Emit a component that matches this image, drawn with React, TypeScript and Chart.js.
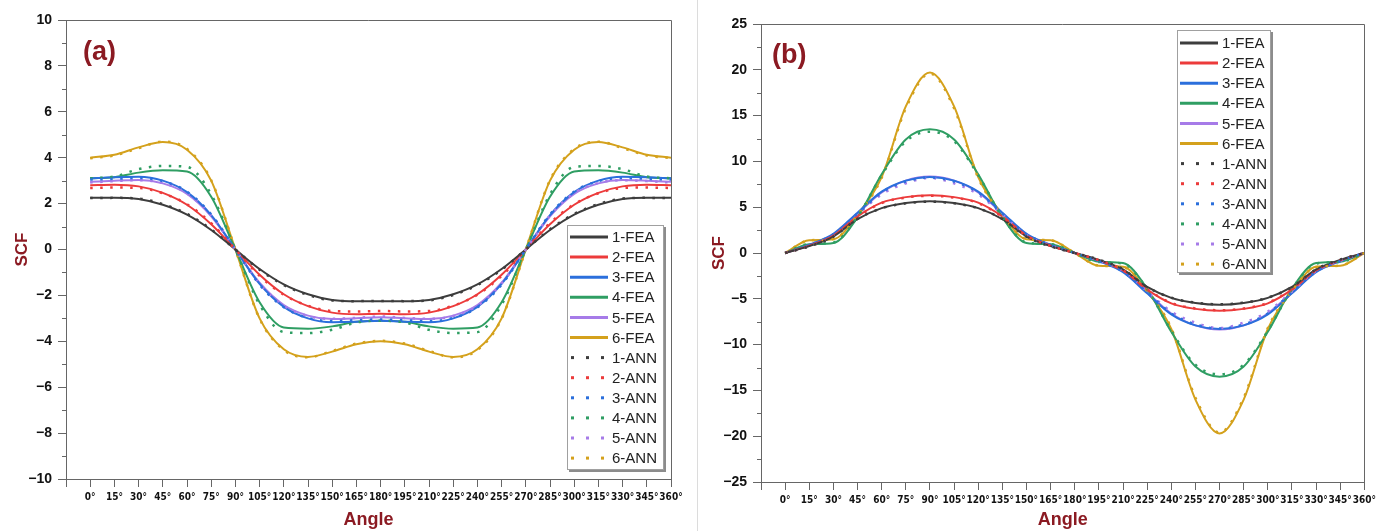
import React, { useEffect, useRef } from 'react';
import { Chart, registerables } from 'chart.js';

Chart.register(...registerables);

// ---------- data ----------
const angles = [0, 15, 30, 45, 60, 75, 90, 105, 120, 135, 150, 165, 180, 195, 210, 225, 240, 255, 270, 285, 300, 315, 330, 345, 360];
const xTickLabels = angles.map((a) => `${a}°`);
const feaLabels = ['1-FEA', '2-FEA', '3-FEA', '4-FEA', '5-FEA', '6-FEA'];
const annLabels = ['1-ANN', '2-ANN', '3-ANN', '4-ANN', '5-ANN', '6-ANN'];

// panel (a)
const fea1A = [2.25, 2.26, 2.2, 1.95, 1.52, 0.85, 0, -0.85, -1.52, -1.95, -2.2, -2.26, -2.25, -2.26, -2.2, -1.95, -1.52, -0.85, 0, 0.85, 1.52, 1.95, 2.2, 2.26, 2.25];
const fea2A = [2.8, 2.82, 2.75, 2.47, 1.95, 1.1, 0, -1.1, -1.95, -2.47, -2.75, -2.82, -2.8, -2.82, -2.75, -2.47, -1.95, -1.1, 0, 1.1, 1.95, 2.47, 2.75, 2.82, 2.8];
const fea3A = [3.1, 3.15, 3.17, 3.0, 2.5, 1.5, 0, -1.5, -2.5, -3.0, -3.17, -3.15, -3.1, -3.15, -3.17, -3.0, -2.5, -1.5, 0, 1.5, 2.5, 3.0, 3.17, 3.15, 3.1];
const fea4A = [3.1, 3.15, 3.35, 3.45, 3.4, 2.3, 0, -2.3, -3.4, -3.45, -3.35, -3.15, -3.1, -3.15, -3.35, -3.45, -3.4, -2.3, 0, 2.3, 3.4, 3.45, 3.35, 3.15, 3.1];
const fea5A = [2.95, 3.0, 3.03, 2.88, 2.42, 1.45, 0, -1.45, -2.42, -2.88, -3.03, -3.0, -2.95, -3.0, -3.03, -2.88, -2.42, -1.45, 0, 1.45, 2.42, 2.88, 3.03, 3.0, 2.95];
const fea6A = [4.0, 4.13, 4.45, 4.68, 4.35, 3.0, 0, -3.0, -4.35, -4.68, -4.45, -4.13, -4.0, -4.13, -4.45, -4.68, -4.35, -3.0, 0, 3.0, 4.35, 4.68, 4.45, 4.13, 4.0];
const ann1A = [2.24, 2.25, 2.22, 1.98, 1.55, 0.88, 0, -0.88, -1.55, -1.98, -2.22, -2.25, -2.24, -2.25, -2.22, -1.98, -1.55, -0.88, 0, 0.88, 1.55, 1.98, 2.22, 2.25, 2.24];
const ann2A = [2.68, 2.7, 2.68, 2.45, 1.97, 1.15, 0, -1.15, -1.97, -2.45, -2.68, -2.7, -2.68, -2.7, -2.68, -2.45, -1.97, -1.15, 0, 1.15, 1.97, 2.45, 2.68, 2.7, 2.68];
const ann3A = [3.05, 3.08, 3.12, 2.98, 2.52, 1.53, 0, -1.53, -2.52, -2.98, -3.12, -3.08, -3.05, -3.08, -3.12, -2.98, -2.52, -1.53, 0, 1.53, 2.52, 2.98, 3.12, 3.08, 3.05];
const ann4A = [3.1, 3.18, 3.5, 3.64, 3.6, 2.4, 0, -2.4, -3.6, -3.64, -3.5, -3.18, -3.1, -3.18, -3.5, -3.64, -3.6, -2.4, 0, 2.4, 3.6, 3.64, 3.5, 3.18, 3.1];
const ann5A = [2.92, 2.98, 3.02, 2.9, 2.45, 1.48, 0, -1.48, -2.45, -2.9, -3.02, -2.98, -2.92, -2.98, -3.02, -2.9, -2.45, -1.48, 0, 1.48, 2.45, 2.9, 3.02, 2.98, 2.92];
const ann6A = [3.98, 4.1, 4.42, 4.7, 4.38, 3.02, 0, -3.02, -4.38, -4.7, -4.42, -4.1, -3.98, -4.1, -4.42, -4.7, -4.38, -3.02, 0, 3.02, 4.38, 4.7, 4.42, 4.1, 3.98];

// panel (b)
const fea1B = [0, 0.75, 1.8, 3.7, 4.9, 5.45, 5.65, 5.45, 4.9, 3.7, 1.8, 0.75, 0, -0.75, -1.8, -3.7, -4.9, -5.45, -5.65, -5.45, -4.9, -3.7, -1.8, -0.75, 0];
const fea2B = [0, 0.8, 1.9, 4.0, 5.5, 6.1, 6.3, 6.1, 5.5, 4.0, 1.9, 0.8, 0, -0.8, -1.9, -4.0, -5.5, -6.1, -6.3, -6.1, -5.5, -4.0, -1.9, -0.8, 0];
const fea3B = [0, 0.9, 2.1, 4.4, 6.7, 7.9, 8.3, 7.9, 6.7, 4.4, 2.1, 0.9, 0, -0.9, -2.1, -4.4, -6.7, -7.9, -8.3, -7.9, -6.7, -4.4, -2.1, -0.9, 0];
const fea4B = [0, 0.95, 1.1, 3.9, 8.6, 12.4, 13.5, 12.4, 8.6, 3.9, 1.1, 0.95, 0, -0.95, -1.1, -3.9, -8.6, -12.4, -13.5, -12.4, -8.6, -3.9, -1.1, -0.95, 0];
const fea5B = [0, 0.85, 2.0, 4.3, 6.6, 7.9, 8.35, 7.9, 6.6, 4.3, 2.0, 0.85, 0, -0.85, -2.0, -4.3, -6.6, -7.9, -8.35, -7.9, -6.6, -4.3, -2.0, -0.85, 0];
const fea6B = [0, 1.4, 1.5, 4.2, 8.3, 16.0, 19.7, 16.0, 8.3, 4.2, 1.5, 1.4, 0, -1.4, -1.5, -4.2, -8.3, -16.0, -19.7, -16.0, -8.3, -4.2, -1.5, -1.4, 0];
const ann1B = [0, 0.72, 1.78, 3.72, 4.88, 5.42, 5.6, 5.42, 4.88, 3.72, 1.78, 0.72, 0, -0.72, -1.78, -3.72, -4.88, -5.42, -5.6, -5.42, -4.88, -3.72, -1.78, -0.72, 0];
const ann2B = [0, 0.78, 1.88, 3.95, 5.45, 6.05, 6.25, 6.05, 5.45, 3.95, 1.88, 0.78, 0, -0.78, -1.88, -3.95, -5.45, -6.05, -6.25, -6.05, -5.45, -3.95, -1.88, -0.78, 0];
const ann3B = [0, 0.88, 2.05, 4.3, 6.6, 7.8, 8.25, 7.8, 6.6, 4.3, 2.05, 0.88, 0, -0.88, -2.05, -4.3, -6.6, -7.8, -8.25, -7.8, -6.6, -4.3, -2.05, -0.88, 0];
const ann4B = [0, 0.98, 1.15, 3.95, 8.5, 12.2, 13.25, 12.2, 8.5, 3.95, 1.15, 0.98, 0, -0.98, -1.15, -3.95, -8.5, -12.2, -13.25, -12.2, -8.5, -3.95, -1.15, -0.98, 0];
const ann5B = [0, 0.83, 1.95, 4.2, 6.4, 7.6, 8.2, 7.6, 6.4, 4.2, 1.95, 0.83, 0, -0.83, -1.95, -4.2, -6.4, -7.6, -8.2, -7.6, -6.4, -4.2, -1.95, -0.83, 0];
const ann6B = [0, 1.38, 1.52, 4.15, 8.2, 15.8, 19.6, 15.8, 8.2, 4.15, 1.52, 1.38, 0, -1.38, -1.52, -4.15, -8.2, -15.8, -19.6, -15.8, -8.2, -4.15, -1.52, -1.38, 0];

// ---------- style ----------
const COLORS = ['#3d3d3d', '#ec3b3b', '#2b6fdc', '#2f9e63', '#a67be8', '#d4a11c'];
const DARK_RED = '#8b1a22';
const FONT = '"Liberation Sans", Arial, sans-serif';
const NARROW = '"Liberation Sans Narrow", "DejaVu Sans", "Liberation Sans", sans-serif';

function buildDatasets(fea: number[][], ann: number[][]) {
  const ds: any[] = [];
  fea.forEach((vals, i) => {
    ds.push({
      label: feaLabels[i],
      data: angles.map((a, j) => ({ x: a, y: vals[j] })),
      borderColor: COLORS[i],
      backgroundColor: COLORS[i],
      borderWidth: 2,
      pointRadius: 0,
      cubicInterpolationMode: 'monotone',
      fill: false,
      order: 2,
    });
  });
  ann.forEach((vals, i) => {
    ds.push({
      label: annLabels[i],
      data: angles.map((a, j) => ({ x: a, y: vals[j] })),
      borderColor: COLORS[i],
      backgroundColor: COLORS[i],
      borderWidth: 2.5,
      borderDash: [2.5, 7.5],
      pointRadius: 0,
      cubicInterpolationMode: 'monotone',
      fill: false,
      order: 1,
    });
  });
  return ds;
}

const decorPlugin = {
  id: 'decor',
  afterDraw(chart: any, _args: any, opts: any) {
    const { ctx, chartArea } = chart;
    const { left, right, top, bottom } = chartArea;
    const ys = chart.scales.y;
    ctx.save();
    ctx.strokeStyle = '#666';
    ctx.lineWidth = 1;
    ctx.setLineDash([]);
    ctx.beginPath();
    ctx.moveTo(left, Math.round(top) + 0.5);
    ctx.lineTo(Math.round(right) + 0.5, Math.round(top) + 0.5);
    ctx.lineTo(Math.round(right) + 0.5, bottom);
    ctx.stroke();
    ctx.beginPath();
    const step = opts.yStep;
    for (let v = opts.yMin + step / 2; v < opts.yMax; v += step) {
      const y = Math.round(ys.getPixelForValue(v)) + 0.5;
      ctx.moveTo(left - 4, y);
      ctx.lineTo(left, y);
    }
    ctx.stroke();
    ctx.fillStyle = DARK_RED;
    ctx.font = `bold 27px ${FONT}`;
    ctx.textBaseline = 'middle';
    ctx.textAlign = 'left';
    ctx.fillText(opts.tag, left + opts.tagDx, top + opts.tagDy);
    const lg = opts.legend;
    ctx.fillStyle = '#8c8c8c';
    ctx.fillRect(lg.x + 2, lg.y + 2, lg.w, lg.h);
    ctx.fillStyle = '#ffffff';
    ctx.fillRect(lg.x, lg.y, lg.w, lg.h);
    ctx.strokeStyle = '#a0a0a0';
    ctx.strokeRect(lg.x + 0.5, lg.y + 0.5, lg.w - 1, lg.h - 1);
    chart.data.datasets.forEach((d: any, i: number) => {
      const y = lg.y + lg.row0 + i * lg.dy;
      if (d.borderDash) {
        ctx.fillStyle = d.borderColor;
        [4, 19, 34].forEach((dx) => ctx.fillRect(lg.x + dx, y - 1.5, 3, 3));
      } else {
        ctx.strokeStyle = d.borderColor;
        ctx.lineWidth = 3;
        ctx.beginPath();
        ctx.moveTo(lg.x + 3, y);
        ctx.lineTo(lg.x + 41, y);
        ctx.stroke();
      }
      ctx.fillStyle = '#222';
      ctx.font = `15px ${FONT}`;
      ctx.textBaseline = 'middle';
      ctx.fillText(d.label, lg.x + 45, y + 1);
    });
    ctx.restore();
  },
};

function buildConfig(p: any) {
  const fmtY = (v: number) => (v < 0 ? `\u2212${Math.abs(v)}` : `${v}`);
  return {
    type: 'line',
    data: { datasets: buildDatasets(p.fea, p.ann) },
    options: {
      animation: false,
      responsive: false,
      maintainAspectRatio: false,
      layout: { padding: { top: p.padTop, right: p.padRight, left: 0, bottom: 0 } },
      plugins: {
        legend: { display: false },
        tooltip: { enabled: false },
        decor: {
          yMin: p.yMin,
          yMax: p.yMax,
          yStep: p.yStep,
          tag: p.tag,
          tagDx: p.tagDx,
          tagDy: p.tagDy,
          legend: p.legend,
        },
      },
      scales: {
        x: {
          type: 'linear',
          min: -15,
          max: 360,
          afterFit: (s: any) => {
            s.height = p.xHeight;
          },
          afterBuildTicks: (s: any) => {
            s.ticks = [-15, ...angles].map((v) => ({ value: v }));
          },
          ticks: {
            stepSize: 15,
            autoSkip: false,
            maxRotation: 0,
            minRotation: 0,
            padding: 4,
            color: '#111',
            font: { family: NARROW, weight: 'bold condensed', size: 10 },
            callback: (v: number) => (v < 0 ? '' : xTickLabels[angles.indexOf(v)]),
          },
          grid: { drawOnChartArea: false, drawTicks: true, tickLength: 8, color: '#666', tickColor: '#666' },
          border: { color: '#666', width: 1 },
          title: {
            display: true,
            text: 'Angle',
            color: DARK_RED,
            font: { family: FONT, weight: 'bold', size: 18 },
            padding: { top: 0, bottom: 0 },
          },
        },
        y: {
          type: 'linear',
          min: p.yMin,
          max: p.yMax,
          afterFit: (s: any) => {
            s.width = p.yWidth;
          },
          ticks: {
            stepSize: p.yStep,
            padding: 6,
            color: '#111',
            font: { family: FONT, weight: 'bold', size: 14 },
            callback: fmtY,
          },
          grid: { drawOnChartArea: false, drawTicks: true, tickLength: 8, color: '#666', tickColor: '#666' },
          border: { color: '#666', width: 1 },
          title: {
            display: true,
            text: 'SCF',
            color: DARK_RED,
            font: { family: FONT, weight: 'bold', size: 17 },
            padding: { top: p.yTitlePad, bottom: 0 },
          },
        },
      },
    },
    plugins: [decorPlugin],
  };
}

const panelA = {
  fea: [fea1A, fea2A, fea3A, fea4A, fea5A, fea6A],
  ann: [ann1A, ann2A, ann3A, ann4A, ann5A, ann6A],
  yMin: -10,
  yMax: 10,
  yStep: 2,
  padTop: 20,
  padRight: 19,
  xHeight: 52,
  yWidth: 66,
  yTitlePad: 12,
  tag: '(a)',
  tagDx: 17,
  tagDy: 33,
  legend: { x: 567, y: 225, w: 97, h: 245, row0: 12, dy: 20.1 },
};

const panelB = {
  fea: [fea1B, fea2B, fea3B, fea4B, fea5B, fea6B],
  ann: [ann1B, ann2B, ann3B, ann4B, ann5B, ann6B],
  yMin: -25,
  yMax: 25,
  yStep: 5,
  padTop: 24,
  padRight: 11,
  xHeight: 49,
  yWidth: 71,
  yTitlePad: 19,
  tag: '(b)',
  tagDx: 11,
  tagDy: 32,
  legend: { x: 487, y: 30, w: 94, h: 243, row0: 13, dy: 20.1 },
};

function ChartPanel({ panel, left }: { panel: any; left: number }) {
  const ref = useRef<HTMLCanvasElement | null>(null);
  useEffect(() => {
    if (!ref.current) return;
    const chart = new Chart(ref.current, buildConfig(panel) as any);
    return () => chart.destroy();
  }, [panel]);
  return (
    <canvas
      ref={ref}
      width={690}
      height={531}
      style={{ position: 'absolute', left, top: 0, width: 690, height: 531 }}
    />
  );
}

export default function App() {
  return (
    <div style={{ position: 'fixed', left: 0, top: 0, width: 1380, height: 531, background: '#fff', overflow: 'hidden' }}>
      <ChartPanel panel={panelA} left={0} />
      <ChartPanel panel={panelB} left={690} />
      <div style={{ position: 'absolute', left: 697, top: 0, width: 1, height: 531, background: '#dcdcdc' }} />
    </div>
  );
}
